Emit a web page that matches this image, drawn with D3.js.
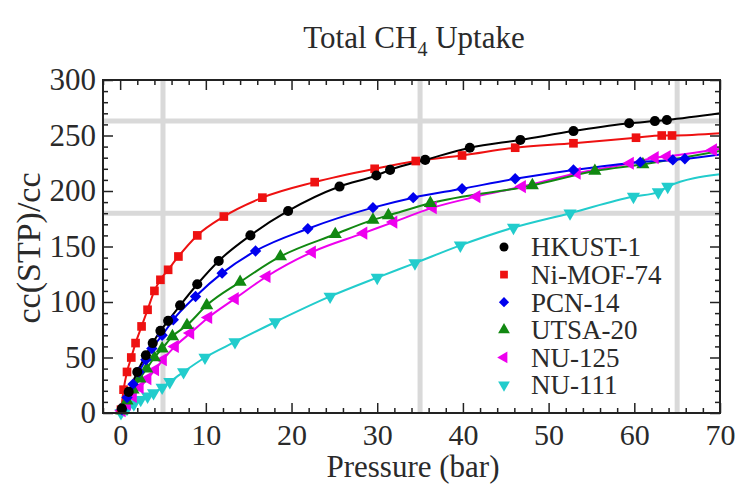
<!DOCTYPE html>
<html><head><meta charset="utf-8">
<script src="https://cdn.jsdelivr.net/npm/d3@7"></script>
<style>body{margin:0;background:#fff;} svg{display:block;}</style>
</head><body>
<svg id="c" width="738" height="484"></svg>
<script>
// ---- data ----
const seriesNames = ["HKUST-1","Ni-MOF-74","PCN-14","UTSA-20","NU-125","NU-111"];
const seriesColors = ["#000000","#ee1111","#0000ee","#118811","#ee00ee","#22cccc"];
const seriesSymbols = ["circle","square","diamond","triangle","triangleLeft","triangleDown"];

const hkustX = [0.2, 1.0, 2.0, 3.0, 3.8, 4.7, 5.6, 7.0, 9.0, 11.5, 15.2, 19.6, 25.6, 29.9, 31.5, 35.6, 40.8, 46.7, 52.9, 59.4, 62.4, 63.8];
const hkustY = [4, 19, 37, 52, 63, 74, 83, 97, 116, 137, 160, 182, 204, 214, 219, 228, 239, 246, 254, 261, 263, 264];
const nimofX = [0.1, 0.4, 0.8, 1.3, 1.8, 2.5, 3.2, 4.0, 4.7, 5.6, 6.8, 9.0, 12.1, 16.6, 22.7, 29.7, 34.5, 39.9, 46.1, 52.9, 60.2, 63.2, 64.4];
const nimofY = [3, 21, 37, 50, 63, 78, 93, 110, 120, 129, 141, 160, 177, 194, 208, 220, 227, 232, 239, 243, 248, 250, 250];
const pcnX = [0.2, 0.8, 1.5, 2.2, 3.0, 3.7, 4.9, 6.2, 8.8, 11.9, 15.8, 21.9, 29.5, 34.2, 39.9, 46.1, 52.9, 60.7, 64.5, 65.9];
const pcnY = [3, 14, 26, 37, 48, 58, 70, 84, 105, 126, 146, 166, 185, 194, 202, 211, 219, 226, 228, 229];
const utsaX = [0.2, 0.8, 1.5, 2.3, 3.1, 4.0, 4.9, 6.1, 7.8, 10.1, 14.0, 18.7, 25.1, 29.5, 31.3, 36.2, 48.1, 55.4, 61.0];
const utsaY = [2, 11, 21, 31, 40, 50, 58, 69, 79, 97, 118, 141, 161, 174, 178, 189, 205, 218, 224];
const nu125X = [0.2, 0.8, 1.5, 2.3, 3.2, 4.1, 5.0, 6.4, 8.2, 10.3, 13.4, 17.1, 22.4, 28.4, 31.9, 36.5, 41.6, 46.9, 53.3, 59.5, 62.4, 63.8, 69.2];
const nu125Y = [2, 8, 15, 23, 31, 39, 48, 60, 72, 86, 103, 123, 145, 162, 172, 185, 195, 204, 216, 225, 230, 231, 237];
const nu111X = [0.1, 0.8, 1.6, 2.4, 3.2, 3.9, 4.9, 5.8, 7.4, 9.9, 13.4, 18.1, 24.5, 30.0, 34.4, 39.7, 45.9, 52.5, 59.9, 62.8, 63.9];
const nu111Y = [0, 4, 8, 12, 15, 18, 23, 28, 37, 50, 64, 82, 105, 122, 135, 151, 167, 180, 195, 199, 204];
// fitted-curve value at 70 bar (line only, no marker)
const fitEnd70 = [270, 252, 233, 236, 238, 215];

const xTicks = [0,10,20,30,40,50,60,70];
const yTicks = [0,50,100,150,200,250,300];
const gridX = [5, 35, 65];
const gridY = [180, 263];

const allX = [hkustX, nimofX, pcnX, utsaX, nu125X, nu111X];
const allY = [hkustY, nimofY, pcnY, utsaY, nu125Y, nu111Y];

// ---- layout ----
const FONT = "Liberation Serif";
const TXT = "#2a2a2a";
const L = 103, R = 720, T = 80, B = 413;
const svg = d3.select("#c");
const x = d3.scaleLinear().domain([-2, 70]).range([L, R]);
const y = d3.scaleLinear().domain([0, 300]).range([B, T]);

// grid
svg.append("g").selectAll("line").data(gridX).join("line")
  .attr("x1", d=>x(d)).attr("x2", d=>x(d)).attr("y1", T).attr("y2", B)
  .attr("stroke", "#d9d9d9").attr("stroke-width", 5);
svg.append("g").selectAll("line").data(gridY).join("line")
  .attr("x1", L).attr("x2", R).attr("y1", d=>y(d)).attr("y2", d=>y(d))
  .attr("stroke", "#d9d9d9").attr("stroke-width", 5);

// axes with inward ticks
const xMinor = d3.range(-2, 71, 2).filter(v => v % 10 !== 0);
const yMinor = d3.range(0, 301, 10).filter(v => v % 50 !== 0);
function tickAxis(axisFn, scale, vals, size, transform) {
  const g = svg.append("g").attr("transform", transform)
    .call(axisFn(scale).tickValues(vals).tickSize(size).tickFormat(""));
  g.select(".domain").remove();
  g.selectAll("line").attr("stroke", "#222").attr("stroke-width", 1.5);
  return g;
}
tickAxis(d3.axisTop, x, xTicks, 10, `translate(0,${B})`);
tickAxis(d3.axisTop, x, xMinor, 5, `translate(0,${B})`);
tickAxis(d3.axisBottom, x, xTicks, 10, `translate(0,${T})`);
tickAxis(d3.axisBottom, x, xMinor, 5, `translate(0,${T})`);
tickAxis(d3.axisRight, y, yTicks, 10, `translate(${L},0)`);
tickAxis(d3.axisRight, y, yMinor, 5, `translate(${L},0)`);
tickAxis(d3.axisLeft, y, yTicks, 10, `translate(${R},0)`);
tickAxis(d3.axisLeft, y, yMinor, 5, `translate(${R},0)`);

// tick labels
const xl = svg.append("g").attr("transform", `translate(0,${B})`)
  .call(d3.axisBottom(x).tickValues(xTicks).tickSize(0).tickPadding(11));
xl.select(".domain").remove();
xl.attr("font-family", FONT).attr("font-size", 30);
xl.selectAll("text").attr("font-family", FONT).attr("font-size", 30).attr("fill", TXT);
const yl = svg.append("g").attr("transform", `translate(${L},0)`)
  .call(d3.axisLeft(y).tickValues(yTicks).tickSize(0).tickPadding(7));
yl.select(".domain").remove();
yl.attr("font-family", FONT).attr("font-size", 31);
yl.selectAll("text").attr("font-family", FONT).attr("font-size", 31).attr("fill", TXT);

// series
const symType = {
  circle: d3.symbolCircle, square: d3.symbolSquare, diamond: d3.symbolSquare,
  triangle: d3.symbolTriangle, triangleLeft: d3.symbolTriangle, triangleDown: d3.symbolTriangle
};
const symRot = {circle:0, square:0, diamond:45, triangle:0, triangleLeft:-90, triangleDown:180};
const symSize = {circle:80, square:75, diamond:65, triangle:75, triangleLeft:75, triangleDown:75};
const line = d3.line().x(d=>x(d[0])).y(d=>y(d[1])).curve(d3.curveMonotoneX);
svg.append("clipPath").attr("id","pc").append("rect")
  .attr("x", L).attr("y", T).attr("width", R-L).attr("height", B-T);

const order = [5,4,3,2,1,0];
order.forEach(i => {
  const pts = allX[i].map((v,k)=>[v, allY[i][k]]);
  const linePts = [[0,0]].concat(pts, [[70, fitEnd70[i]]]);
  svg.append("path").datum(linePts).attr("d", line)
    .attr("fill","none").attr("stroke", seriesColors[i]).attr("stroke-width", 2)
    .attr("clip-path","url(#pc)");
});
order.forEach(i => {
  const pts = allX[i].map((v,k)=>[v, allY[i][k]]);
  const s = seriesSymbols[i];
  svg.append("g").selectAll("path").data(pts).join("path")
    .attr("d", d3.symbol().type(symType[s]).size(symSize[s]))
    .attr("transform", d=>`translate(${x(d[0])},${y(d[1])}) rotate(${symRot[s]})`)
    .attr("fill", seriesColors[i]);
});

// frame
svg.append("rect").attr("x", L).attr("y", T).attr("width", R-L).attr("height", B-T)
  .attr("fill","none").attr("stroke","#222").attr("stroke-width", 2);

// legend
const lg = svg.append("g");
seriesNames.forEach((n,i) => {
  const yy = 247 + i*27.6;
  const s = seriesSymbols[i];
  lg.append("path").attr("d", d3.symbol().type(symType[s]).size(symSize[s]*0.8))
    .attr("transform", `translate(504,${yy}) rotate(${symRot[s]})`).attr("fill", seriesColors[i]);
  lg.append("text").attr("x", 531).attr("y", yy).attr("dy","0.35em")
    .attr("font-family", FONT).attr("font-size", 27).attr("fill", TXT).text(n);
});

// titles
const title = svg.append("text").attr("x", 414).attr("y", 48).attr("text-anchor","middle")
  .attr("font-family", FONT).attr("font-size", 31).attr("fill", TXT);
title.append("tspan").text("Total CH");
title.append("tspan").attr("font-size", 20).attr("dy", 8).text("4");
title.append("tspan").attr("dy", -8).text(" Uptake");
svg.append("text").attr("x", 413).attr("y", 477).attr("text-anchor","middle")
  .attr("font-family", FONT).attr("font-size", 31).attr("fill", TXT).text("Pressure (bar)");
svg.append("text").attr("transform","translate(40,248) rotate(-90)").attr("text-anchor","middle")
  .attr("font-family", FONT).attr("font-size", 34).attr("fill", TXT).text("cc(STP)/cc");
</script>
</body></html>
